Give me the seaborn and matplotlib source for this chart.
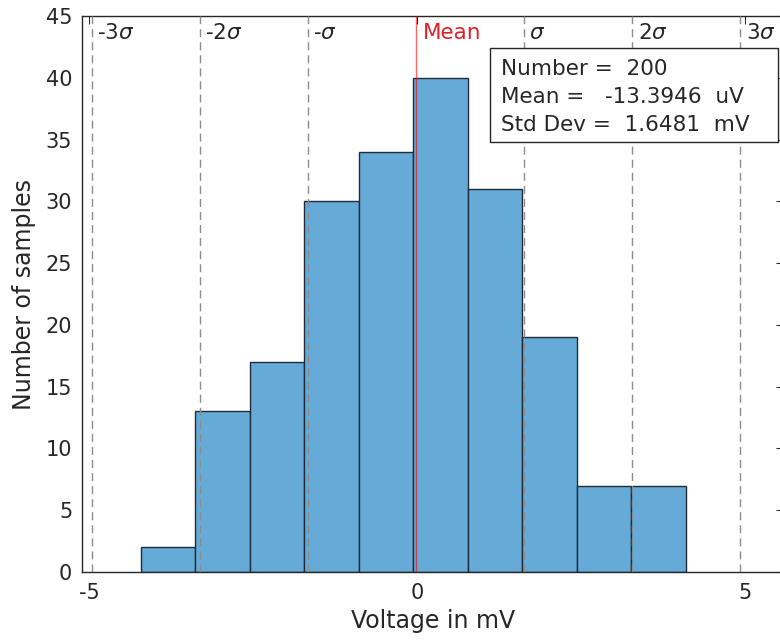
import numpy as np
import pandas as pd
import seaborn as sns
import matplotlib.pyplot as plt
from matplotlib.patches import Rectangle

# histogram of 200 samples, counts per bin
bin_edges = [-4.21, -3.379, -2.548, -1.717, -0.886, -0.055, 0.776, 1.607, 2.438, 3.269, 4.10]
counts = [2, 13, 17, 30, 34, 40, 31, 19, 7, 7]

n_samples = 200
mean_mv = -13.3946e-3
std_mv = 1.6481

sigma_k = [-3, -2, -1, 1, 2, 3]
sigma_labels = ['-3$\\sigma$', '-2$\\sigma$', '-$\\sigma$', '$\\sigma$', '2$\\sigma$', '3$\\sigma$']

stats_lines = ['Number =  200', 'Mean =   -13.3946  uV', 'Std Dev =  1.6481  mV']

sns.set_theme(style='white')
plt.rcParams['font.family'] = ['DejaVu Sans']
plt.rcParams['mathtext.fontset'] = 'dejavusans'
plt.rcParams['axes.unicode_minus'] = False

dark = (0.15, 0.15, 0.15)

centers = [(a + b) / 2 for a, b in zip(bin_edges[:-1], bin_edges[1:])]
df = pd.DataFrame({'v': centers, 'n': counts})

fig = plt.figure(figsize=(7.8, 6.41), dpi=100)
ax = fig.add_axes([82 / 780, 69 / 641, 702 / 780, 556 / 641])

sns.histplot(data=df, x='v', weights='n', bins=bin_edges, ax=ax,
             color='#66aad7', alpha=1, edgecolor='#1f2b38', linewidth=1)

# sigma lines
for k, lab in zip(sigma_k, sigma_labels):
    xv = mean_mv + k * std_mv
    ax.axvline(xv, color=(0.55, 0.55, 0.55), lw=1, linestyle=(0, (5.8, 3.6)), zorder=3)
    ax.text(xv + 0.08, 43.6, lab, fontsize=15.5, color=dark, va='center', ha='left')

ax.axvline(mean_mv, color='red', lw=1, alpha=0.6, zorder=3)
ax.text(mean_mv + 0.11, 43.6, 'Mean', fontsize=15.5, color='#e01e26', va='center', ha='left')

# stats box
ax.add_patch(Rectangle((0.581, 0.7734), 0.41, 0.169, transform=ax.transAxes,
                       facecolor='white', edgecolor=dark, lw=1, zorder=5))
for i, s in enumerate(stats_lines):
    ax.text(0.597, 0.905 - i * 0.0504, s, transform=ax.transAxes, fontsize=15.5,
            color=dark, va='center', ha='left', zorder=6)

ax.set_xlim(-5.107, 5.595)
ax.set_ylim(0, 45)
ax.set_xticks([-5, 0, 5])
ax.set_yticks(range(0, 46, 5))
ax.tick_params(direction='in', top=True, right=True, length=5.5, width=0.75,
               colors=dark, labelsize=15, pad=8)
ax.tick_params(axis='y', pad=7)
for sp in ax.spines.values():
    sp.set_color(dark)
    sp.set_linewidth(1)

ax.set_xlabel('Voltage in mV', fontsize=17, color=dark)
ax.set_ylabel('Number of samples', fontsize=17, color=dark)
ax.xaxis.set_label_coords(0.5, -0.0665)
ax.yaxis.set_label_coords(-0.0655, 0.5)

fig.savefig('out.png', dpi=100)
